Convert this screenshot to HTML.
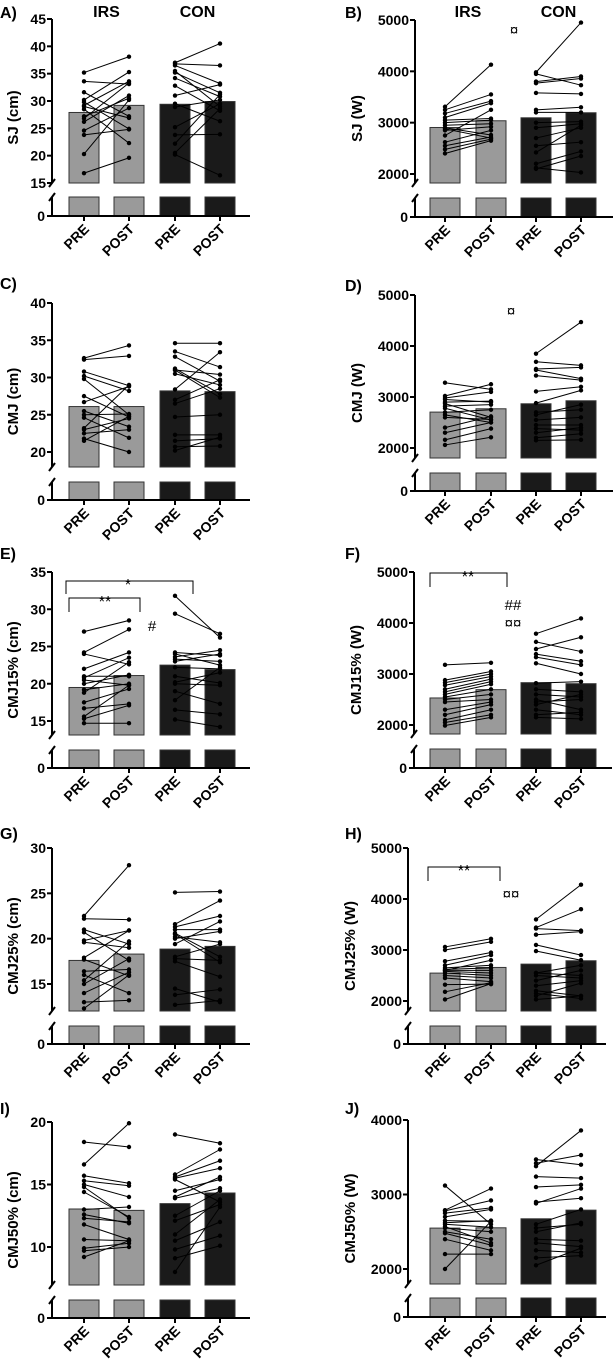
<!DOCTYPE html>
<html><head><meta charset="utf-8"><style>
html,body{margin:0;padding:0;background:#fff}
svg{display:block;font-family:"Liberation Sans",Arial,sans-serif;font-weight:bold}
</style></head><body>
<svg id="fig" width="614" height="1369" viewBox="0 0 614 1369" xmlns="http://www.w3.org/2000/svg"></svg>
<script>
// ---- data ----
const categories = ["PRE","POST","PRE","POST"];
const groups = ["IRS","CON"];
const panelLetters = ["A","B","C","D","E","F","G","H","I","J"];
const yTitles = ["SJ (cm)","SJ (W)","CMJ (cm)","CMJ (W)","CMJ15% (cm)","CMJ15% (W)","CMJ25% (cm)","CMJ25% (W)","CMJ50% (cm)","CMJ50% (W)"];
const tickSets = [[15,20,25,30,35,40,45],[2000,3000,4000,5000],[20,25,30,35,40],[2000,3000,4000,5000],[15,20,25,30,35],[2000,3000,4000,5000],[15,20,25,30],[2000,3000,4000,5000],[10,15,20],[2000,3000,4000]];
const barMeans = [[27.9,29.2,29.4,29.9],[2906,3037,3095,3193],[26.1,26.1,28.2,28.1],[2704,2769,2867,2926],[19.5,21.1,22.5,21.9],[2530,2693,2830,2810],[17.6,18.3,18.85,19.15],[2547,2658,2723,2789],[13.04,12.93,13.47,14.32],[2549,2553,2674,2790]];
const irsPre = [
[35.2,33.6,31.6,30.2,29.8,29.2,28.5,27.2,26.8,26.2,24.6,23.8,20.3,16.8,29.0],
[3310,3250,3180,3100,3050,3000,2950,2900,2880,2850,2750,2620,2550,2480,2400],
[32.6,32.4,30.8,30.2,29.8,27.5,26.7,25.5,25.0,24.6,23.2,23.0,22.5,21.8,21.5],
[3280,3020,2980,2950,2900,2870,2820,2780,2700,2650,2600,2400,2300,2160,2060],
[27.0,24.2,24.0,22.0,21.0,20.8,20.5,20.0,19.2,18.8,17.5,16.7,15.6,15.3,14.7],
[3180,2880,2830,2780,2700,2650,2600,2550,2500,2450,2300,2200,2100,2050,1990],
[22.5,22.2,21.0,20.7,19.8,19.6,17.9,17.7,16.4,16.0,15.4,15.0,14.0,13.0,12.3],
[3060,3000,2780,2700,2650,2620,2600,2580,2550,2500,2450,2320,2180,2030,2600],
[18.4,16.6,15.7,15.3,15.0,14.8,14.4,13.0,12.6,12.3,11.8,10.6,9.9,9.7,9.2],
[3120,2790,2780,2750,2700,2650,2620,2600,2570,2550,2500,2480,2400,2200,2000]];
const irsPost = [
[38.1,33.1,27.2,35.3,24.9,33.6,22.3,30.5,33.3,31.0,28.7,24.8,30.2,19.6,26.9],
[4130,3550,3420,3380,3080,3050,2980,2760,2700,2920,3250,2850,2720,2680,2650],
[34.3,32.9,28.9,28.2,25.0,24.7,28.8,23.4,25.1,21.9,29.0,24.5,23.0,20.0,24.8],
[3150,3250,3100,2900,2920,2600,2850,2550,2750,2500,2560,2620,2500,2380,2210],
[28.5,27.3,22.6,24.2,21.0,23.5,19.8,21.2,20.0,22.9,19.3,17.3,19.8,17.1,14.7],
[3220,3050,3000,2950,2900,2850,2800,2700,2600,2500,2450,2400,2300,2200,2150],
[28.1,22.1,19.4,17.6,20.9,19.0,20.9,15.9,16.6,14.0,19.7,17.8,16.3,13.2,16.0],
[3220,3160,2950,2900,2700,2650,2600,2550,2500,2450,2380,2330,2360,2340,2800],
[18.0,19.9,15.1,14.9,14.0,12.3,12.4,13.2,11.9,12.0,10.6,10.5,10.3,10.0,10.5],
[2600,3080,2920,2820,2800,2640,2650,2560,2350,2500,2400,2320,2250,2200,2640]];
const conPre = [
[37.0,36.5,35.5,35.2,34.2,32.8,31.0,29.5,28.9,25.2,23.8,22.2,20.5,20.2,36.8],
[3980,3950,3800,3770,3580,3250,3200,3000,2900,2700,2550,2420,2200,2100,2120],
[34.6,33.5,32.8,31.2,31.0,30.5,28.4,27.0,26.5,24.7,22.3,21.5,20.7,20.2,31.0],
[3850,3690,3550,3530,3420,3110,2880,2700,2650,2550,2450,2380,2300,2200,2150],
[31.8,29.4,24.2,24.0,23.6,23.3,23.0,22.2,21.0,20.2,20.0,19.0,17.8,16.5,15.2],
[3790,3630,3490,3390,3330,3210,2820,2700,2600,2500,2450,2400,2300,2200,2150],
[25.1,21.6,21.3,21.0,20.5,20.2,20.0,19.4,18.0,17.5,14.5,13.8,12.7,17.8,20.6],
[3600,3440,3420,3300,3100,2980,2550,2500,2300,2200,2150,2100,2030,2550,2400],
[19.0,15.8,15.6,15.5,14.5,14.0,13.9,12.5,12.1,11.0,10.5,9.8,9.1,8.0,15.4],
[3470,3420,3380,3240,3100,2900,2880,2600,2500,2400,2350,2250,2150,2050,2550]];
const conPost = [
[40.5,33.2,29.0,31.5,30.8,28.2,33.0,26.3,30.2,29.5,23.9,31.2,28.6,16.4,36.5],
[4950,3730,3900,3860,3560,3300,3200,3020,2980,2900,2620,2950,2440,2350,2030],
[34.6,31.4,29.5,27.8,30.4,29.0,33.4,29.7,28.5,25.0,22.3,21.8,20.8,22.0,27.3],
[4470,3620,3580,3360,3330,3200,3130,2750,2850,2600,2450,2350,2400,2280,2160],
[26.2,26.7,23.8,22.5,24.5,23.0,24.0,22.0,20.1,21.5,19.8,17.3,22.2,15.9,14.2],
[4090,3440,3720,3250,3180,3000,2850,2650,2550,2300,2500,2600,2200,2250,2120],
[25.2,24.2,22.5,21.0,17.4,19.6,20.8,21.9,19.4,15.8,13.0,14.4,13.2,17.6,18.0],
[4280,3800,3380,3360,2900,2800,2500,2450,2400,2100,2050,2350,2100,2700,2600],
[18.3,17.8,16.9,16.3,15.4,15.6,14.7,14.5,13.4,13.8,12.0,10.9,10.1,13.2,13.6],
[3400,3530,3860,3220,3130,2950,3080,2800,2620,2380,2300,2220,2180,2280,2600]];

// ---- layout (pixel geometry, not data) ----
// [axisX, topY, botY, barBottomY, lowerTopY, zeroY, labelY]
const layout = [
[52,19,183,183,197,216,12],[415,20,174,183,198,217,12],
[52,303,452,467,482,500,283],[415,295,448,458,473,491,285],
[52,572,721,735,750,768,553],[414,572,725,734,749,768,553],
[52,848,984,1011,1026,1044,833],[408,848,1001,1011,1026,1044,833],
[52,1122,1247,1285,1300,1318,1108],[408,1120,1269,1284,1298,1317,1108]];
const NS="http://www.w3.org/2000/svg";
const svg=document.getElementById('fig');
function mk(tag,attrs,parent){const e=document.createElementNS(NS,tag);for(const k in attrs)e.setAttribute(k,attrs[k]);(parent||svg).appendChild(e);return e;}
function txt(s,attrs,parent){const t=mk('text',attrs,parent);t.textContent=s;return t;}

for(let p=0;p<10;p++){
  const [ax,topY,botY,bbY,lowY,zeroY,labY]=layout[p];
  const right=p%2===1;
  const bx0=right?430:69;
  const cx=[0,1,2,3].map(i=>bx0+15+(right?[0,46,91,136][i]:[0,45,91,136][i]));
  const ticks=tickSets[p];
  const tMin=ticks[0],tMax=ticks[ticks.length-1];
  const y=v=>botY-(v-tMin)*(botY-topY)/(tMax-tMin);
  const g=mk('g',{});
  
  
  const lab=txt(panelLetters[p]+')',{x:right?345:0,y:labY+6,'font-size':16},g);
  
  
  const yt=txt(yTitles[p],{x:0,y:0,'font-size':15,'text-anchor':'middle',transform:`translate(${ax-(right?53:34)},${(topY+zeroY)/2}) rotate(-90)`},g);
  
  
  // bars
  for(let i=0;i<4;i++){
    const fill=i<2?'#9a9a9a':'#1a1a1a';
    const bt=y(barMeans[p][i]);
    const b1=mk('rect',{x:cx[i]-15,y:bt,width:30,height:bbY-bt,fill:fill,stroke:'#333','stroke-width':1},g);
    
    
    const b2=mk('rect',{x:cx[i]-15,y:lowY,width:30,height:zeroY-lowY,fill:fill,stroke:'#333','stroke-width':1},g);
    
    
  }
  // individual lines
  const sets=[[irsPre[p],irsPost[p],0],[conPre[p],conPost[p],2]];
  for(const [a,b,o] of sets){
    for(let k=0;k<a.length;k++){
      const l=mk('line',{x1:cx[o],y1:y(a[k]),x2:cx[o+1],y2:y(b[k]),stroke:'#000','stroke-width':1},g);
      
      
      const d1=mk('circle',{cx:cx[o],cy:y(a[k]),r:2.2,fill:'#000'},g);
      
      
      const d2=mk('circle',{cx:cx[o+1],cy:y(b[k]),r:2.2,fill:'#000'},g);
      
      
    }
  }
  // axes
  const axg=mk('g',{stroke:'#000','stroke-width':2,fill:'none'},g);
  
  
  mk('line',{x1:ax,y1:topY,x2:ax,y2:bbY},axg);
  mk('line',{x1:ax,y1:lowY,x2:ax,y2:zeroY},axg);
  mk('line',{x1:ax-5,y1:zeroY,x2:ax+198,y2:zeroY},axg);
  mk('line',{x1:ax-3,y1:bbY+4,x2:ax+3,y2:bbY-4},axg);
  mk('line',{x1:ax-3,y1:lowY+4,x2:ax+3,y2:lowY-4},axg);
  ticks.forEach(t=>{
    mk('line',{x1:ax-5,y1:y(t),x2:ax,y2:y(t)},axg);
    const tl=txt(String(t),{x:ax-6,y:y(t)+5,'font-size':14,'text-anchor':'end'},g);
    
    
  });
  const z=txt('0',{x:ax-7,y:zeroY+5,'font-size':14,'text-anchor':'end'},g);
  
  
  for(let i=0;i<4;i++){
    mk('line',{x1:cx[i],y1:zeroY,x2:cx[i],y2:zeroY+5},axg);
    const xl=txt(categories[i],{x:0,y:0,'font-size':14,'text-anchor':'end',transform:`translate(${cx[i]+6},${zeroY+14}) rotate(-45)`},g);
    
    
  }
  if(p<2){
    const h1=txt('IRS',{x:(cx[0]+cx[1])/2,y:17,'font-size':16,'text-anchor':'middle'},g);
    
    
    const h2=txt('CON',{x:(cx[2]+cx[3])/2,y:17,'font-size':16,'text-anchor':'middle'},g);
    
    
  }
}
// annotations
function ann(s,x,yy,size){const t=txt(s,{x:x,y:yy,'font-size':size||14,'text-anchor':'middle','font-weight':'normal'});return t;}
function bracket(x1,x2,top,bot){const pth=mk('path',{d:`M${x1},${bot}V${top}H${x2}V${bot}`,stroke:'#000','stroke-width':1,fill:'none'});}
ann('¤',514,35,15);
ann('¤',511,316,15);
bracket(66,193,581,594); ann('*',128,590,16);
bracket(69,140,598,612); ann('**',105,607,16);
ann('#',152,631,15);
bracket(430,507,573,587); ann('**',468,582,16);
ann('##',513,610,15); ann('¤¤',513,628,15);
bracket(428,500,867,881); ann('**',464,876,16);
ann('¤¤',511,899,15);
</script>
</body></html>
